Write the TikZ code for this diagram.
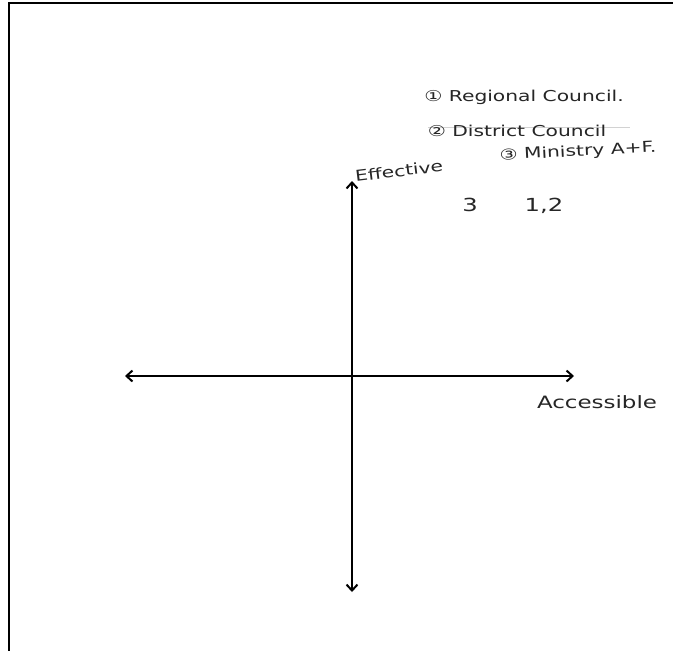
\documentclass[tikz,border=0pt]{standalone}
\usepackage{fontspec}
\setmainfont{DejaVu Sans}
\newfontfamily\handfont[FakeStretch=1.35]{DejaVu Sans}
\usetikzlibrary{arrows.meta,positioning}

\begin{document}
\begin{tikzpicture}[x=1pt, y=-1pt,
  axis/.style={line width=2.2pt, color=black, {Straight Barb[length=6pt,width=11pt,line width=2pt]}-{Straight Barb[length=6pt,width=11pt,line width=2pt]}},
  frame/.style={line width=2.2pt, color=black},
  hand/.style={font=\handfont\fontsize{15}{18}\selectfont, inner sep=0pt, color=black!85},
  rank/.style={font=\handfont\fontsize{18}{20}\selectfont, inner sep=0pt, color=black!85},
]
  \useasboundingbox (0,0) rectangle (673,651);
  \fill[white] (0,0) rectangle (673,651);
  \draw[frame] (9,651) |- (673,3);

  % axes
  \coordinate (west)  at (125,376);
  \coordinate (east)  at (574,376);
  \coordinate (north) at (352,181);
  \coordinate (south) at (352,592);
  \draw[axis] (west) -- (east);
  \draw[axis] (south) -- (north);

  % axis labels
  \node[hand, rotate=7] (eff) at (399,171) {Effective};
  \node[hand, font=\handfont\fontsize{17}{20}\selectfont] (acc) at (597,402) {Accessible};

  % legend
  \node[hand] (leg1) at (524,97)  {① Regional Council.};
  \draw[gray!35, line width=0.6pt] (428,127) -- (630,127);
  \node[hand] (leg2) at (517,131) {② District Council};
  \node[hand, rotate=3] (leg3) at (578,152) {③ Ministry A+F.};

  % ranks
  \node[rank] (rank3)  at (470,205) {3};
  \node[rank] (rank12) at (544,206) {1,2};
\end{tikzpicture}
\end{document}
